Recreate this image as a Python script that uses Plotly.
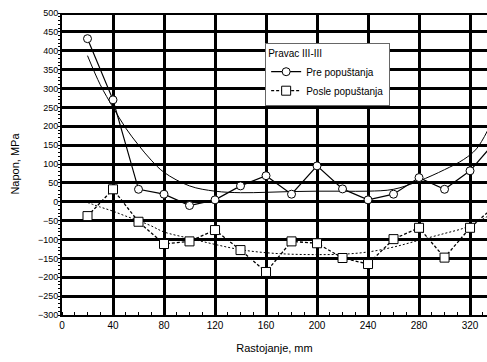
import plotly.graph_objects as go

# Measurement positions along direction III-III (mm)
x_pts = [20, 40, 60, 80, 100, 120, 140, 160, 180, 200, 220, 240, 260, 280, 300, 320, 340]

# Residual stress before stress relief (MPa)
pre = [432, 270, 33, 20, -10, 5, 42, 69, 20, 95, 34, 5, 20, 64, 33, 82, 160]
# Residual stress after stress relief (MPa)
posle = [-38, 33, -53, -112, -105, -75, -128, -186, -105, -110, -149, -165, -99, -69, -148, -69, -10]

# Trend curves
fit_x = [20, 30, 40, 50, 60, 70, 80, 100, 120, 140, 160, 180, 200, 220, 240, 260, 280, 300, 315, 325, 334]
pre_fit = [387, 310, 250, 195, 150, 110, 78, 42, 28, 24, 25, 27, 28, 28, 28, 33, 55, 85, 112, 140, 190]
posle_fit = [-2, -14, -25, -38, -50, -64, -80, -97, -113, -127, -135, -139, -140, -139, -133, -120, -102, -84, -70, -55, -38]

x_ticks = [0, 40, 80, 120, 160, 200, 240, 280, 320]
y_ticks = list(range(-300, 501, 50))

font = "Liberation Sans, Arial, sans-serif"

fig = go.Figure()

fig.add_trace(go.Scatter(x=fit_x, y=pre_fit, mode="lines", line=dict(color="black", width=1, shape="spline"),
                         showlegend=False, hoverinfo="skip"))
fig.add_trace(go.Scatter(x=fit_x, y=posle_fit, mode="lines",
                         line=dict(color="black", width=1, dash="2px,2px", shape="spline"),
                         showlegend=False, hoverinfo="skip"))

fig.add_trace(go.Scatter(x=x_pts, y=pre, mode="lines+markers", name="Pre popuštanja",
                         line=dict(color="black", width=1.2),
                         marker=dict(symbol="circle", size=8, color="white", line=dict(color="black", width=1))))
fig.add_trace(go.Scatter(x=x_pts, y=posle, mode="lines+markers", name="Posle popuštanja",
                         line=dict(color="black", width=1.3, dash="3px,2px"),
                         marker=dict(symbol="square", size=9, color="white", line=dict(color="black", width=1))))

# heavy top border
fig.add_shape(type="line", xref="paper", yref="y", x0=0, x1=1, y0=500, y1=500,
              line=dict(color="black", width=4))

fig.update_layout(
    width=487, height=362,
    margin=dict(l=62, r=0, t=13, b=47),
    paper_bgcolor="white", plot_bgcolor="white",
    font=dict(family=font, size=10, color="black"),
    legend=dict(
        title=dict(text="Pravac III-III", font=dict(size=10)),
        x=0.478, y=0.9, xanchor="left", yanchor="top",
        bgcolor="white", bordercolor="#666666", borderwidth=1,
        font=dict(size=10), tracegroupgap=0, itemwidth=30,
    ),
    xaxis=dict(
        range=[0, 333.3], tickvals=x_ticks, ticks="", showgrid=True,
        gridcolor="black", gridwidth=3, zeroline=False,
        showline=True, linecolor="black", linewidth=2,
        minor=dict(dtick=10, tick0=0, ticks="inside", ticklen=3, tickcolor="black", showgrid=False),
        title=dict(text="Rastojanje, mm", font=dict(size=11), standoff=14),
        tickfont=dict(size=10),
    ),
    yaxis=dict(
        range=[-300, 500], tickvals=y_ticks, ticks="", showgrid=True,
        gridcolor="black", gridwidth=3, zeroline=False,
        showline=True, linecolor="black", linewidth=2,
        minor=dict(dtick=10, tick0=0, ticks="outside", ticklen=2, tickcolor="black", showgrid=False),
        title=dict(text="Napon, MPa", font=dict(size=11), standoff=16),
        tickfont=dict(size=9),
    ),
)

fig.write_html("out.html")
